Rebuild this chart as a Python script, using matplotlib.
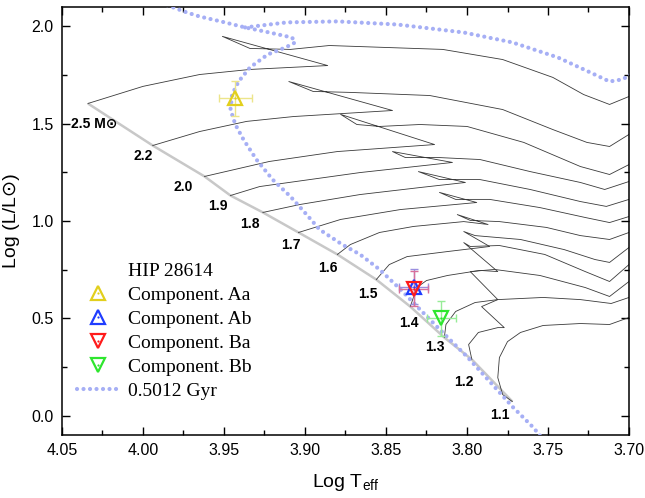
import matplotlib.pyplot as plt
from matplotlib.lines import Line2D

plt.rcParams['font.family'] = ['Liberation Sans', 'DejaVu Sans']
plt.rcParams['mathtext.fontset'] = 'custom'
plt.rcParams['mathtext.rm'] = 'Liberation Sans'
plt.rcParams['mathtext.it'] = 'Liberation Sans'
plt.rcParams['mathtext.bf'] = 'Liberation Sans:bold'

# evolutionary tracks (log Teff, log L/Lsun), first point on the ZAMS
masses = ['2.5', '2.2', '2.0', '1.9', '1.8', '1.7', '1.6', '1.5', '1.4', '1.3', '1.2', '1.1']
track_logT = [
    [4.034, 4.000, 3.965, 3.934, 3.886, 3.951, 3.934, 3.909, 3.885, 3.815, 3.778, 3.747, 3.728, 3.712, 3.700],
    [3.994, 3.965, 3.936, 3.907, 3.846, 3.910, 3.895, 3.872, 3.823, 3.778, 3.747, 3.726, 3.712, 3.700],
    [3.962, 3.922, 3.880, 3.820, 3.878, 3.868, 3.854, 3.829, 3.800, 3.765, 3.730, 3.712, 3.700],
    [3.946, 3.928, 3.897, 3.866, 3.809, 3.846, 3.838, 3.817, 3.792, 3.761, 3.730, 3.715, 3.700],
    [3.926, 3.903, 3.866, 3.829, 3.801, 3.830, 3.817, 3.792, 3.761, 3.730, 3.714, 3.700],
    [3.904, 3.878, 3.841, 3.794, 3.817, 3.807, 3.786, 3.755, 3.727, 3.712, 3.700],
    [3.880, 3.872, 3.854, 3.833, 3.802, 3.787, 3.806, 3.798, 3.780, 3.751, 3.730, 3.712, 3.700],
    [3.856, 3.848, 3.837, 3.812, 3.786, 3.802, 3.795, 3.767, 3.740, 3.721, 3.712, 3.700],
    [3.835, 3.831, 3.825, 3.812, 3.792, 3.781, 3.802, 3.798, 3.780, 3.752, 3.727, 3.712, 3.700],
    [3.814, 3.813, 3.807, 3.795, 3.781, 3.798, 3.783, 3.755, 3.727, 3.712, 3.700],
    [3.797, 3.799, 3.793, 3.781, 3.777, 3.791, 3.781, 3.753, 3.730, 3.711, 3.700],
    [3.772, 3.778, 3.781, 3.780, 3.775, 3.767, 3.753, 3.730, 3.712, 3.700],
]
track_logL = [
    [1.604, 1.692, 1.753, 1.779, 1.799, 1.949, 1.887, 1.882, 1.902, 1.882, 1.830, 1.738, 1.650, 1.599, 1.640],
    [1.388, 1.460, 1.512, 1.537, 1.568, 1.717, 1.666, 1.661, 1.645, 1.573, 1.470, 1.404, 1.383, 1.445],
    [1.229, 1.306, 1.357, 1.393, 1.548, 1.496, 1.486, 1.496, 1.486, 1.404, 1.280, 1.239, 1.290],
    [1.131, 1.177, 1.213, 1.249, 1.301, 1.357, 1.326, 1.326, 1.316, 1.254, 1.198, 1.162, 1.203],
    [1.044, 1.085, 1.136, 1.172, 1.198, 1.254, 1.213, 1.213, 1.162, 1.100, 1.075, 1.111],
    [0.941, 1.008, 1.059, 1.095, 1.147, 1.111, 1.111, 1.069, 1.018, 0.992, 1.023],
    [0.828, 0.879, 0.941, 0.972, 0.997, 0.982, 1.033, 1.003, 0.997, 0.967, 0.925, 0.905, 0.941],
    [0.699, 0.776, 0.817, 0.843, 0.869, 0.946, 0.925, 0.905, 0.853, 0.802, 0.787, 0.864],
    [0.560, 0.658, 0.694, 0.720, 0.746, 0.740, 0.889, 0.869, 0.874, 0.828, 0.740, 0.689, 0.776],
    [0.401, 0.468, 0.535, 0.581, 0.596, 0.740, 0.751, 0.720, 0.658, 0.612, 0.689],
    [0.288, 0.365, 0.427, 0.452, 0.452, 0.560, 0.596, 0.607, 0.596, 0.576, 0.607],
    [0.072, 0.108, 0.195, 0.298, 0.380, 0.427, 0.463, 0.473, 0.468, 0.504],
]
# where the mass labels sit
label_T = [4.030, 4.000, 3.975, 3.954, 3.934, 3.909, 3.886, 3.861, 3.836, 3.820, 3.802, 3.780]
label_L = [1.500, 1.332, 1.177, 1.075, 0.987, 0.879, 0.756, 0.627, 0.478, 0.350, 0.170, 0.005]

# 0.5012 Gyr isochrone
iso_logT = [3.755, 3.759, 3.772, 3.786, 3.800, 3.815, 3.829, 3.841, 3.854, 3.866, 3.877, 3.891,
            3.899, 3.909, 3.920, 3.930, 3.938, 3.943, 3.946, 3.945, 3.941, 3.934, 3.923, 3.912,
            3.906, 3.908, 3.922, 3.937, 3.952, 3.965, 3.973, 3.983, 3.993]
iso_logL = [-0.103, -0.062, 0.046, 0.175, 0.303, 0.427, 0.545, 0.648, 0.751, 0.828, 0.879, 0.956,
            1.033, 1.126, 1.213, 1.316, 1.419, 1.496, 1.573, 1.650, 1.717, 1.789, 1.856, 1.892,
            1.918, 1.943, 1.969, 1.995, 2.026, 2.051, 2.072, 2.103, 2.134]
iso2_logT = [3.937, 3.911, 3.880, 3.843, 3.802, 3.772, 3.744, 3.724, 3.712, 3.704, 3.700, 3.693]
iso2_logL = [1.995, 2.021, 2.026, 2.010, 1.969, 1.918, 1.841, 1.764, 1.717, 1.728, 1.748, 1.779]

# HIP 28614 components
comp_names = ['Component. Aa', 'Component. Ab', 'Component. Ba', 'Component. Bb']
comp_logT = [3.943, 3.833, 3.833, 3.816]
comp_logL = [1.630, 0.663, 0.653, 0.499]
comp_Terr = [0.010, 0.009, 0.009, 0.009]
comp_Lerr = [0.09, 0.09, 0.09, 0.09]
comp_marker = ['^', '^', 'v', 'v']
comp_color = ['#e2cf1c', '#1f3cff', '#ff1a1a', '#2ee62e']
comp_ecolor = ['#ece58a', '#9a8fe0', '#d9709a', '#97ec97']

fig = plt.figure(figsize=(6.45, 4.98), dpi=100)
ax = fig.add_axes([62/645, 1 - 435/498, 567/645, 428/498])

# ZAMS through the first point of each track
zams_T = [t[0] for t in track_logT]
zams_L = [l[0] for l in track_logL]
ax.plot(zams_T, zams_L, color='#c8c8c8', lw=1.8, zorder=1, solid_capstyle='butt')

for T, L in zip(track_logT, track_logL):
    ax.plot(T, L, color='#3a3a3a', lw=0.6, zorder=2)

iso_kw = dict(color='#a6aff5', lw=3, dashes=(0.01, 1.55), dash_capstyle='round', zorder=3)
iso_line, = ax.plot(iso_logT, iso_logL, **iso_kw)
ax.plot(iso2_logT, iso2_logL, **iso_kw)

for i, m in enumerate(masses):
    txt = m + ' M\u2299' if i == 0 else m
    ax.text(label_T[i], label_L[i], txt, fontsize=10, fontweight='bold',
            ha='center', va='center', zorder=4)

handles = [Line2D([], [], linestyle='none')]
labels = ['HIP 28614']
for i in range(4):
    ax.errorbar(comp_logT[i], comp_logL[i], xerr=comp_Terr[i], yerr=comp_Lerr[i],
                fmt='none', ecolor=comp_ecolor[i], elinewidth=1, capsize=3, zorder=5)
for i in range(4):
    tri, = ax.plot(comp_logT[i], comp_logL[i], marker=comp_marker[i], ms=9.5, mew=1.6,
                   mfc='none', mec=comp_color[i], linestyle='none', zorder=6)
    dot, = ax.plot(comp_logT[i], comp_logL[i], marker='o', ms=1.6, mew=0,
                   color=comp_color[i], linestyle='none', zorder=6)
    handles.append((tri, dot))
    labels.append(comp_names[i])
handles.append(iso_line)
labels.append('0.5012 Gyr')

ax.legend(handles, labels, loc='upper left', bbox_to_anchor=(0.026, 0.404),
          frameon=False, borderpad=0, borderaxespad=0, handlelength=2.2,
          handletextpad=0.45, labelspacing=0.33,
          prop={'family': 'Liberation Serif', 'size': 14})

ax.set_xlim(4.05, 3.70)
ax.set_ylim(-0.1, 2.1)
ax.set_xticks([4.05, 4.00, 3.95, 3.90, 3.85, 3.80, 3.75, 3.70])
ax.set_xticks([4.025, 3.975, 3.925, 3.875, 3.825, 3.775, 3.725], minor=True)
ax.set_yticks([0.0, 0.5, 1.0, 1.5, 2.0])
ax.set_yticks([0.25, 0.75, 1.25, 1.75], minor=True)
ax.xaxis.set_major_formatter(plt.FormatStrFormatter('%.2f'))
ax.yaxis.set_major_formatter(plt.FormatStrFormatter('%.1f'))
ax.tick_params(which='both', direction='in', top=True, right=True, width=1.0)
ax.tick_params(which='major', length=5.5, labelsize=11.5, pad=6)
ax.tick_params(which='minor', length=3.5)
for s in ax.spines.values():
    s.set_linewidth(1.1)

ax.set_xlabel(r'Log T$_{\mathrm{eff}}$', fontsize=14, labelpad=10)
ax.set_ylabel('Log (L/L\u2299)', fontsize=14, labelpad=8)

fig.savefig('out.png', dpi=100)
